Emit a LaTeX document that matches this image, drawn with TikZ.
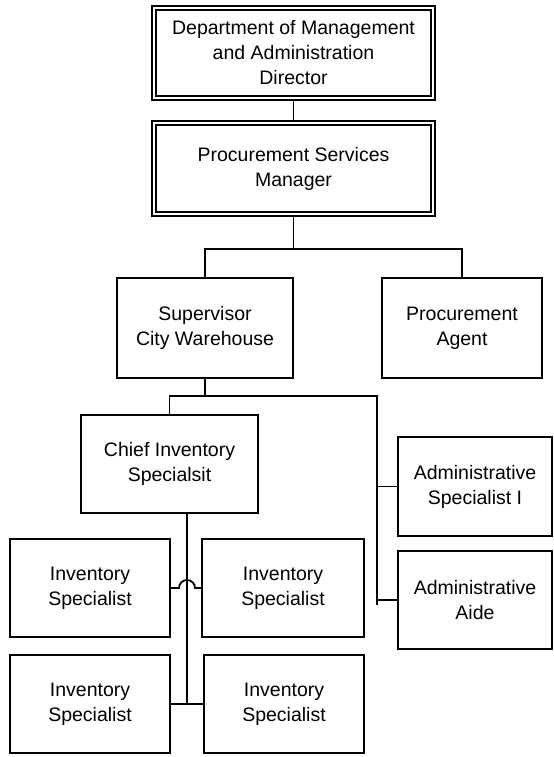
\documentclass[tikz,border=0pt]{standalone}
\usepackage{fontspec}
\setmainfont{Liberation Sans}
\usepackage{tikz}
\tikzset {box/.style={draw,line width=1.8bp,align=center,inner sep=0pt,font=\fontsize{19.5bp}{25bp}\selectfont},
  headbox/.style={box,line width=1.4bp,double,double distance=2.4bp},
  link/.style={line width=1.8bp}}

\begin{document}
\begin{tikzpicture}[x=1bp,y=-1bp]
\useasboundingbox (0,0) rectangle (554,757);
\node[headbox,minimum width=279bp,minimum height=90bp] (dir) at (293.5,53) {Department of Management\\and Administration\\Director};
\node[headbox,minimum width=279bp,minimum height=91bp] (mgr) at (293.5,168.5) {Procurement Services\\Manager};
\node[box,minimum width=176bp,minimum height=100bp] (sup) at (205,328) {Supervisor\\City Warehouse};
\node[box,minimum width=160bp,minimum height=100bp] (agent) at (462,328) {Procurement\\Agent};
\node[box,minimum width=177bp,minimum height=98bp] (chief) at (169.5,464) {Chief Inventory\\Specialsit};
\node[box,minimum width=154bp,minimum height=99bp] (adm1) at (475,486.5) {Administrative\\Specialist I};
\node[box,minimum width=154bp,minimum height=98bp] (adm2) at (475,600) {Administrative\\Aide};
\node[box,minimum width=160bp,minimum height=98bp] (invtl) at (90,588) {Inventory\\Specialist};
\node[box,minimum width=162bp,minimum height=98bp] (invtr) at (283,588) {Inventory\\Specialist};
\node[box,minimum width=160bp,minimum height=98bp] (invbl) at (90,704) {Inventory\\Specialist};
\node[box,minimum width=160bp,minimum height=98bp] (invbr) at (284,704) {Inventory\\Specialist};
\coordinate (hub1) at (293.5,249);
\coordinate (hub2) at (205,396);
\coordinate (admend) at (377,605);
\coordinate (invend) at (187,704);
\draw[link] (dir.south) -- (mgr.north);
\draw[link] (mgr.south) -- (hub1);
\draw[link] (sup.north) |- (hub1) -| (agent.north);
\draw[link] (sup.south) -- (hub2);
\draw[link] (chief.north) |- (hub2) -| (admend);
\draw[link] (adm1.west) -- (adm1.west -| admend);
\draw[link] (adm2.west) -- (adm2.west -| admend);
\draw[link] (chief.south -| invend) -- (invend);
\draw[link] (invbl.east) -- (invbr.west);
\draw[link] (invtl.east) -- ([xshift=-8bp]invtl.east -| invend) arc[start angle=180,end angle=0,radius=8bp] -- (invtr.west);
\end{tikzpicture}
\end{document}
